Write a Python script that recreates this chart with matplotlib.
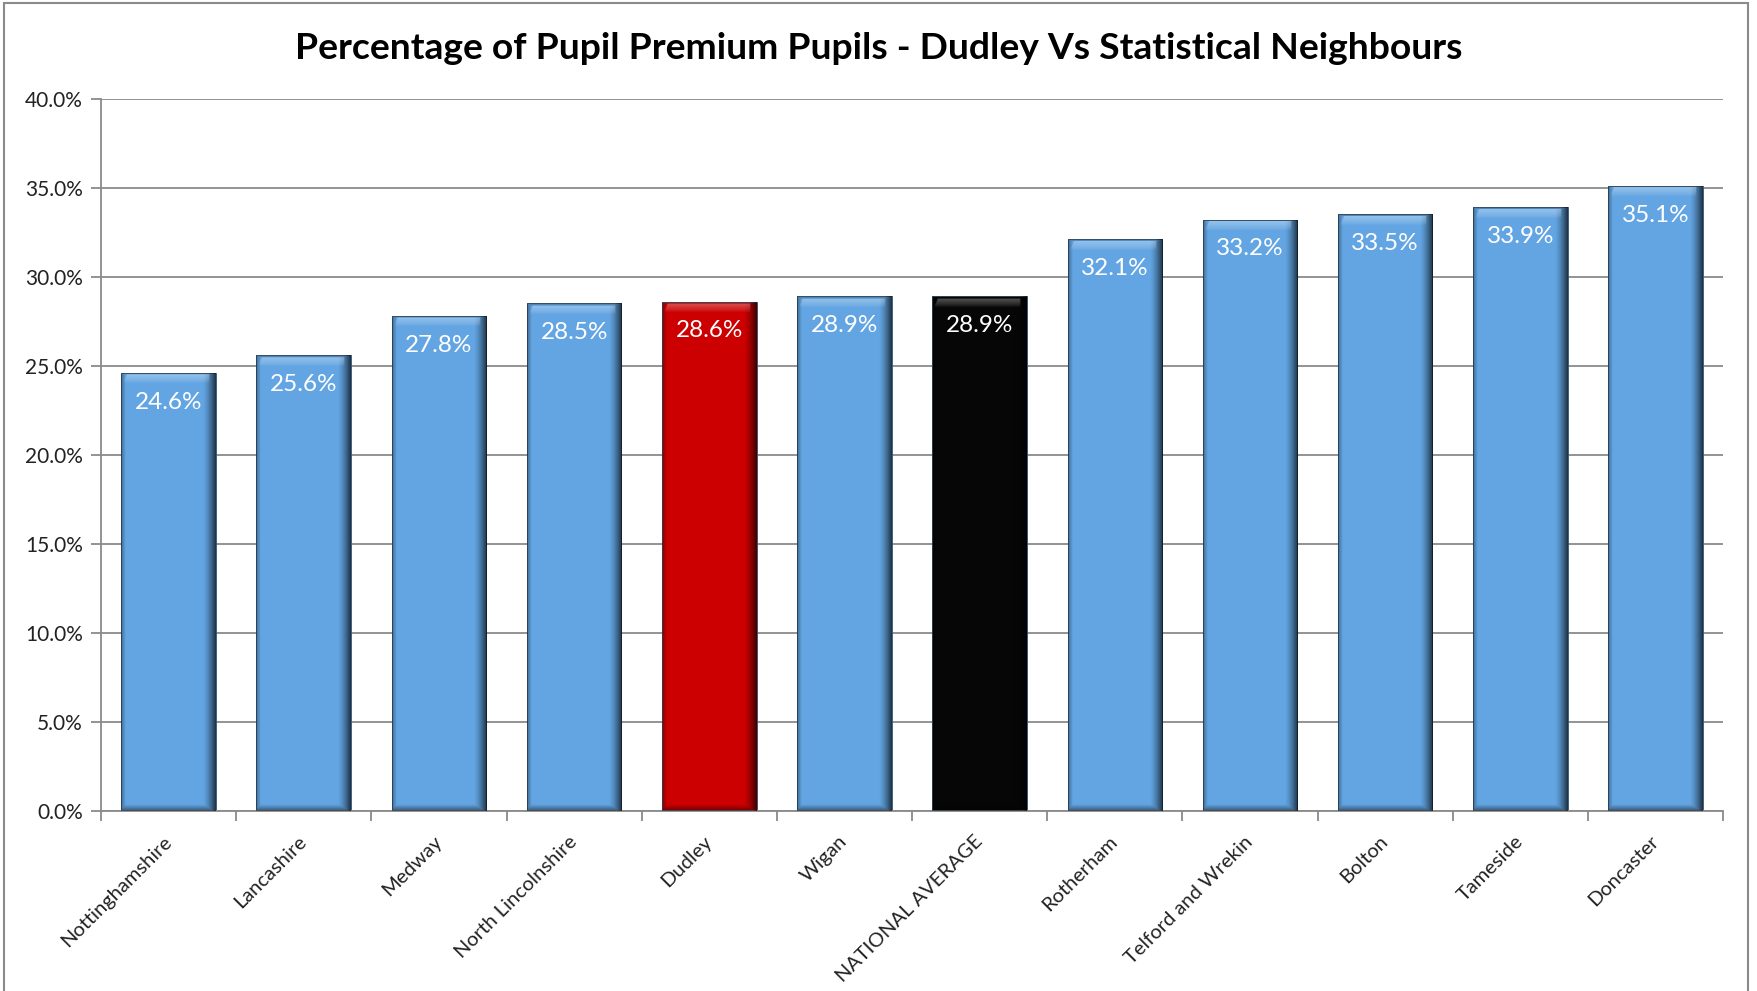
import numpy as np
import matplotlib
matplotlib.use('Agg')
import matplotlib.pyplot as plt
from matplotlib.patches import Rectangle

# data lest av figuren
omrader = ['Nottinghamshire', 'Lancashire', 'Medway', 'North Lincolnshire', 'Dudley',
           'Wigan', 'NATIONAL AVERAGE', 'Rotherham', 'Telford and Wrekin', 'Bolton',
           'Tameside', 'Doncaster']
andel = [24.6, 25.6, 27.8, 28.5, 28.6, 28.9, 28.9, 32.1, 33.2, 33.5, 33.9, 35.1]
y_ticks = [0, 5, 10, 15, 20, 25, 30, 35, 40]

# farger: Dudley rod, nasjonalt snitt svart, resten bla
bla, rod, svart = '#63a5e2', '#cc0000', '#060606'
farger = [bla, bla, bla, bla, rod, bla, svart, bla, bla, bla, bla, bla]

plt.rcParams['font.family'] = ['Lato', 'DejaVu Sans']
grid_farge = '#8a8a8a'


def lag_bevel(ax, bar):
    # skygge paa kantene og lys stripe oeverst, klippet til stolpen
    x0, y0 = bar.get_x(), bar.get_y()
    w, h = bar.get_width(), bar.get_height()
    nx, ny = 200, 600
    xs = np.linspace(0, 1, nx)
    ys = np.linspace(h, 0, ny)  # fra topp til bunn i dataenheter
    X, Y = np.meshgrid(xs, ys)

    venstre = np.clip(1 - X / 0.05, 0, 1) * 0.35
    hoyre = np.clip((X - 0.86) / 0.14, 0, 1) ** 1.5 * 0.7
    bunn = np.clip(1 - Y / 0.35, 0, 1) * 0.45
    mork = np.maximum(np.maximum(venstre, hoyre), bunn)
    toppkant = Y > h - 0.1
    skygge = np.zeros((ny, nx, 4))
    skygge[..., 3] = np.where(toppkant, np.maximum(mork, 0.2), mork)

    # myk lys stripe oeverst med skraa hjorner
    d = (h - Y) / 0.6
    inne = (X > 0.05 * np.clip(1 - d, 0, 1) + 0.02) & (X < 0.93)
    lys = np.zeros((ny, nx, 4))
    lys[..., :3] = 1.0
    lys[..., 3] = np.where(inne & (d < 1) & ~toppkant, 0.35 * (1 - d) ** 0.7, 0.0)

    for img in (skygge, lys):
        im = ax.imshow(img, extent=[x0, x0 + w, y0, y0 + h], aspect='auto',
                       interpolation='bilinear', zorder=3)
        im.set_clip_path(bar)


fig = plt.figure(figsize=(17.57, 9.91), dpi=100)
ax = fig.add_axes([0.0575, 0.1816, 0.9232, 0.7189])

x = np.arange(len(omrader))
stolper = ax.bar(x, andel, width=0.70, color=farger, zorder=2,
                 edgecolor='#2f4f6f', linewidth=0.6)
for b in stolper:
    lag_bevel(ax, b)

for xi, v in zip(x, andel):
    ax.annotate(f'{v:.1f}%', (xi, v), xytext=(0, -21), textcoords='offset points',
                ha='center', va='center', color='white', fontsize=17.5, zorder=5)

ax.set_xlim(-0.5, len(omrader) - 0.5)
ax.set_ylim(0, 40)
ax.set_yticks(y_ticks)
ax.set_yticklabels([f'{t:.1f}%' for t in y_ticks], fontsize=15, color='#222222')
ax.yaxis.grid(True, color=grid_farge, linewidth=1.3, zorder=0)
ax.set_axisbelow(True)

ax.set_xticks(x)
ax.set_xticklabels(omrader, rotation=45, ha='right', va='center',
                   rotation_mode='anchor', fontsize=14.5, color='#222222')
ax.set_xticks(np.arange(-0.5, len(omrader)), minor=True)
ax.tick_params(axis='x', which='major', length=0, pad=20)
ax.tick_params(axis='x', which='minor', length=7, color=grid_farge, width=1.3)
ax.tick_params(axis='y', length=7, color=grid_farge, width=1.3, pad=6)

for s in ['top', 'right']:
    ax.spines[s].set_visible(False)
for s in ['left', 'bottom']:
    ax.spines[s].set_color(grid_farge)
    ax.spines[s].set_linewidth(1.3)

fig.text(0.5, 0.951, 'Percentage of Pupil Premium Pupils - Dudley Vs Statistical Neighbours',
         ha='center', va='center', fontsize=26.8, fontweight='bold', color='black')

# ramme rundt hele diagrammet
fig.patches.append(Rectangle((0.002, -0.01), 0.993, 1.0066, transform=fig.transFigure,
                             fill=False, edgecolor='#8a8a8a', linewidth=1.5))

fig.savefig('out.png', dpi=100)
